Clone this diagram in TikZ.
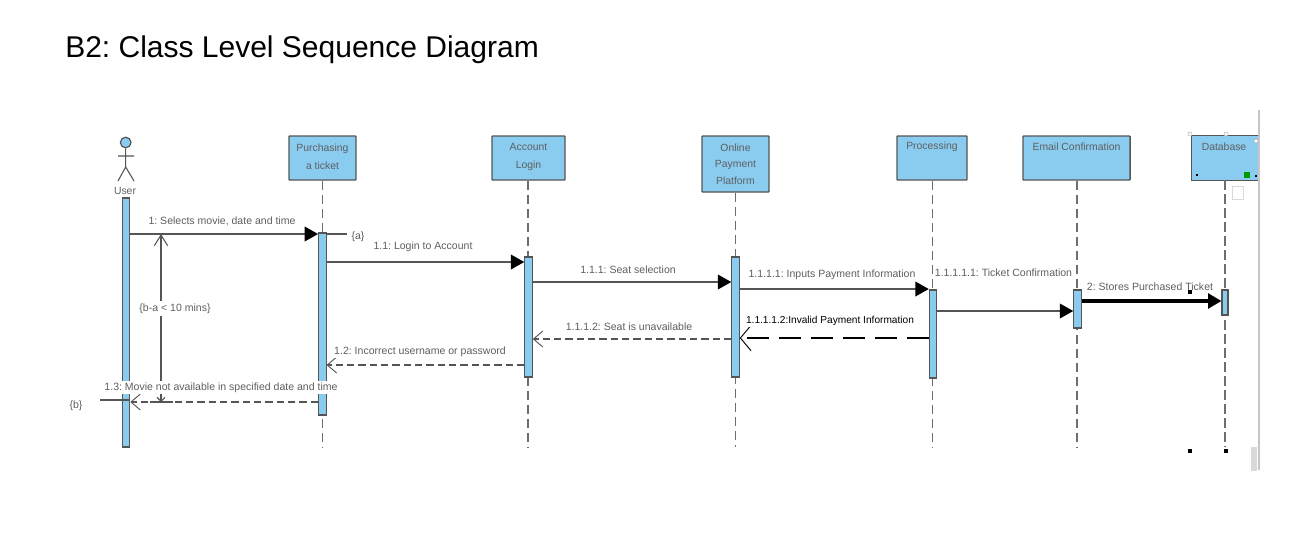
\documentclass[tikz,border=0pt]{standalone}
\usepackage{fontspec}
\setmainfont{Liberation Sans}
\frenchspacing
\usetikzlibrary{arrows.meta}
\definecolor{lifeblue}{RGB}{138,203,240}
\definecolor{linegray}{RGB}{85,85,85}
\definecolor{textgray}{RGB}{95,95,95}

\begin{document}
\begin{tikzpicture}[
    x=0.75pt, y=-0.75pt,
    headbox/.style={rectangle, draw=linegray, fill=lifeblue, line width=1.1pt, inner sep=0pt, rounded corners=0.5pt},
    headtext/.style={font=\fontsize{7.8}{13.5}\selectfont, text=textgray, align=center, inner sep=0pt},
    lifebar/.style={rectangle, draw=linegray, fill=lifeblue, line width=0.8pt, inner sep=0pt, minimum width=5.6pt},
    lifeline/.style={draw=linegray!85, line width=0.8pt, dash pattern=on 7pt off 3.5pt},
    msg/.style={draw=linegray, line width=1pt, -{Triangle[length=10pt, width=11pt, color=black]}},
    reply/.style={draw=linegray, line width=0.9pt, dash pattern=on 5.5pt off 3pt, -{Straight Barb[length=7pt, width=12pt, line width=0.7pt]}},
    msgtext/.style={font=\fontsize{7.9}{9}\selectfont, text=textgray, fill=white, inner sep=1pt},
    handle/.style={rectangle, fill=black, inner sep=0pt, minimum size=3pt},
    grip/.style={circle, draw=gray!60, fill=white, line width=0.4pt, inner sep=0pt, minimum size=3pt},
]
\useasboundingbox (0,0) rectangle (1302,540);

% Title
\node[anchor=west, font=\fontsize{22.5}{27}\selectfont, inner sep=0pt] (title) at (65,50) {B2: Class Level Sequence Diagram};

% Panel edge
\node[rectangle, fill=gray!45, minimum width=1.2pt, minimum height=270pt, inner sep=0pt] (edge) at (1258.7,290) {};

% Actor
\node[circle, draw=linegray, fill=lifeblue, line width=0.9pt, minimum size=8pt, inner sep=0pt] (userhead) at (125.7,142.5) {};
\coordinate (userhip) at (125.7,167);
\coordinate (userarml) at (118,156);
\coordinate (userarmr) at (134,156);
\coordinate (userlegl) at (118,181);
\coordinate (userlegr) at (134,181);
\draw[linegray, line width=0.8pt] (userhead.south) -- (userhip) (userarml) -- (userarmr) (userlegl) -- (userhip) -- (userlegr);
\node[headtext] (user) at (125,190.5) {User};

% Heads
\node[headbox, minimum width=50.25pt, minimum height=33pt] (purch) at (322.5,158) {};
\node[headtext] (purchtext) at (322.5,157) {Purchasing\\a ticket};
\node[headbox, minimum width=54.75pt, minimum height=33pt] (acct) at (528.5,158) {};
\node[headtext] (accttext) at (528.5,157) {Account\\Login};
\node[headbox, minimum width=50.25pt, minimum height=42pt] (online) at (735.5,164) {};
\node[headtext, font=\fontsize{7.8}{12.5}\selectfont] (onlinetext) at (735.5,164) {Online\\Payment\\Platform};
\node[headbox, minimum width=52.5pt, minimum height=33pt] (proc) at (932,158) {};
\node[headtext] (proctext) at (932,147) {Processing};
\node[headbox, minimum width=80.25pt, minimum height=33pt] (email) at (1076.5,158) {};
\node[headtext] (emailtext) at (1076.5,147) {Email Confirmation};
\node[rectangle, fill=lifeblue, minimum width=49.5pt, minimum height=33pt, inner sep=0pt] (db) at (1225,158) {};
\draw[linegray, line width=1.1pt] (db.north east) -- (db.north west) -- (db.south west) -- (db.south east);
\node[headtext] (dbtext) at (1224,147) {Database};

% Lifelines
\coordinate (purchend) at (322.3,447);
\coordinate (acctend) at (528,447);
\coordinate (onlineend) at (735.5,447);
\coordinate (procend) at (932.5,447);
\coordinate (emailend) at (1077,447);
\coordinate (dbend) at (1225,447);
\draw[lifeline] (purch.south -| purchend) -- (purchend);
\draw[lifeline] (acct.south -| acctend) -- (acctend);
\draw[lifeline] (online.south -| onlineend) -- (onlineend);
\draw[lifeline] (proc.south -| procend) -- (procend);
\draw[lifeline] (email.south -| emailend) -- (emailend);
\draw[lifeline] (db.south -| dbend) -- (dbend);

% Activation bars
\node[lifebar, minimum height=186.75pt] (userbar) at (126,322.5) {};
\node[lifebar, minimum height=136.5pt] (purchbar) at (322.3,324) {};
\node[lifebar, minimum height=90pt] (acctbar) at (528.5,317) {};
\node[lifebar, minimum height=90pt] (onlinebar) at (735.5,317) {};
\node[lifebar, minimum height=66pt] (procbar) at (933,334) {};
\node[lifebar, minimum height=28.5pt] (emailbar) at (1077.5,309) {};
\node[lifebar, minimum width=4.5pt, minimum height=18.75pt] (dbbar) at (1225,302.5) {};

% Time constraint
\coordinate (ticka) at (347,234);
\coordinate (tickb) at (100,400);
\coordinate (consttop) at (161,234);
\coordinate (constbot) at (161,402);
\draw[linegray, line width=0.8pt] (150,234) -- (173,234);
\draw[linegray, line width=0.8pt] (150,402) -- (173,402);
\draw[linegray, line width=0.8pt, {Straight Barb[length=8pt, width=10pt]}-{Straight Barb[length=3pt, width=6pt]}] (consttop) -- (constbot);
\node[msgtext, inner sep=2pt] (constr) at (175,308.5) {\{b-a < 10 mins\}};
\draw[linegray, line width=0.8pt] (purchbar.east |- ticka) -- (ticka);
\draw[linegray, line width=0.8pt] (tickb) -- (userbar.east |- tickb);
\node[msgtext] (marka) at (358,236.5) {\{a\}};
\node[msgtext] (markb) at (76,405.5) {\{b\}};

% Messages
\draw[msg] (userbar.east |- 0,234) -- (purchbar.west |- 0,234);
\draw[msg] (purchbar.east |- 0,262) -- (acctbar.west |- 0,262);
\draw[msg] (acctbar.east |- 0,282) -- (onlinebar.west |- 0,282);
\draw[msg] (onlinebar.east |- 0,289) -- (procbar.west |- 0,289);
\draw[msg] (procbar.east |- 0,311) -- (emailbar.west |- 0,311);
\draw[msg, draw=black, line width=2.4pt, -{Triangle[length=10pt, width=11pt, color=black]}] (emailbar.east |- 0,301) -- (dbbar.west |- 0,301);
\draw[reply] (onlinebar.west |- 0,339) -- (acctbar.east |- 0,339);
\draw[reply, draw=black, line width=0.8pt, dash pattern=on 16.5pt off 7.5pt, -{Straight Barb[length=8pt, width=19pt, line width=0.7pt]}] (procbar.west |- 0,338) -- (onlinebar.east |- 0,338);
\draw[reply] (acctbar.west |- 0,365) -- (purchbar.east |- 0,365);
\draw[reply] (purchbar.west |- 0,402) -- (userbar.east |- 0,402);

% Message labels
\node[msgtext] (m1) at (222,221.5) {1: Selects movie, date and time};
\node[msgtext] (m11) at (423,246.5) {1.1: Login to Account};
\node[msgtext] (m111) at (628,269.5) {1.1.1: Seat selection};
\node[msgtext] (m1111) at (832,274.5) {1.1.1.1: Inputs Payment Information};
\node[msgtext] (m11111) at (1003.5,272.5) {1.1.1.1.1: Ticket Confirmation};
\node[msgtext] (m2) at (1150,286.5) {2: Stores Purchased Ticket};
\node[msgtext] (m1112) at (629,326.5) {1.1.1.2: Seat is unavailable};
\node[msgtext, text=black, font=\fontsize{7.6}{8}\selectfont] (m11112) at (830,321) {1.1.1.1.2:Invalid Payment Information};
\node[msgtext] (m12) at (420,351.5) {1.2: Incorrect username or password};
\node[msgtext] (m13) at (221,387.5) {1.3: Movie not available in specified date and time};

% Selection handles
\node[handle] (sel1) at (1190,292) {};
\node[handle] (sel2) at (1190,451) {};
\node[handle] (sel3) at (1226,451) {};
\node[grip] (grip1) at (1190,134) {};
\node[grip] (grip2) at (1226,134) {};
\node[grip] (grip3) at (1256,141) {};
\node[rectangle, draw=gray!30, fill=white, line width=0.4pt, minimum width=8pt, minimum height=10pt, inner sep=0pt] (icon1) at (1237.5,193) {};
\node[rectangle, fill=green!60!black, minimum size=4pt, inner sep=0pt] (icon2) at (1247,175) {};
\node[rectangle, fill=black, minimum size=2pt, inner sep=0pt] (icon3) at (1197,175) {};
\node[rectangle, fill=black, minimum size=2pt, inner sep=0pt] (icon4) at (1256,176) {};
\node[rectangle, fill=gray!30, minimum width=5pt, minimum height=18pt, inner sep=0pt] (scroll) at (1254,459) {};

\end{tikzpicture}
\end{document}
